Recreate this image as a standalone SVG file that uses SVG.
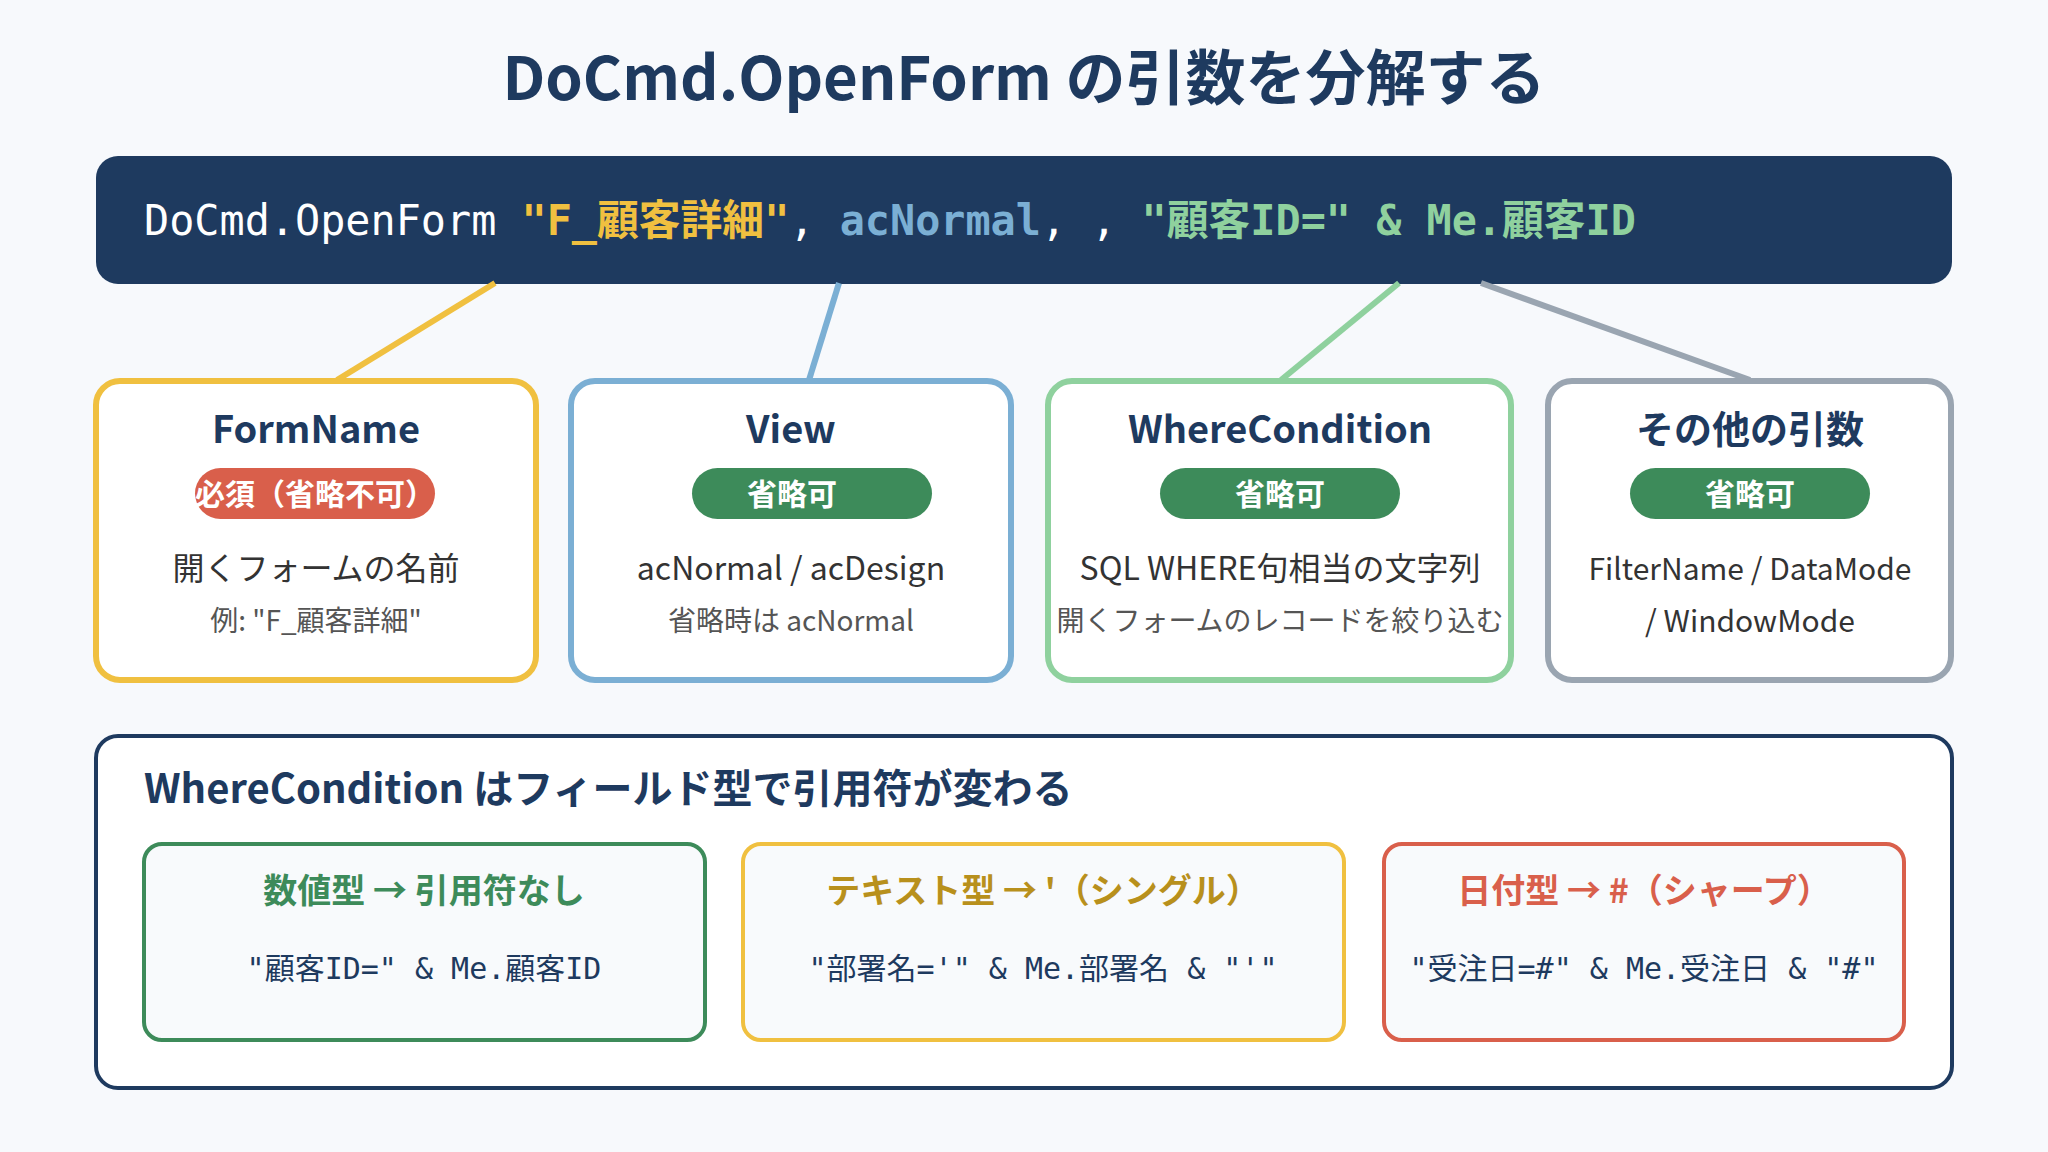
<svg xmlns="http://www.w3.org/2000/svg" width="2048" height="1152" viewBox="0 0 2048 1152">
<defs>
<style>
.sans{font-family:"Noto Sans CJK JP","Noto Sans",sans-serif}
.mono{font-family:"DejaVu Sans Mono","Noto Sans CJK JP",monospace}
.title{font-size:60px;font-weight:700;fill:#1e3a5f}
.ntitle{font-size:38px;font-weight:700;fill:#1e3a5f}
.badge-t{font-size:30px;font-weight:700;fill:#ffffff}
.l1{font-size:32px;fill:#333333}
.l1s{font-size:30px;fill:#333333}
.l2{font-size:28px;fill:#555555}
.node{fill:#ffffff;stroke-width:6}
.pill-g{fill:#3d8b5a}
.pill-r{fill:#d95f4b}
.conn{stroke-width:6;fill:none}
.sub{fill:#f8fafc;stroke-width:4}
.subt{font-size:34px;font-weight:700}
.subc{font-size:30px;fill:#1e3a5f}
</style>
</defs>
<rect x="0" y="0" width="2048" height="1152" fill="#f7f9fc"/>
<text class="sans title" x="1024" y="100" text-anchor="middle">DoCmd.OpenForm の引数を分解する</text>

<g id="code">
<rect x="96" y="156" width="1856" height="128" rx="22" fill="#1e3a5f"/>
<text class="mono" x="144" y="235" font-size="41.8" fill="#ffffff">DoCmd.OpenForm <tspan fill="#f0c040" font-weight="700">"F_顧客詳細"</tspan>, <tspan fill="#7bafd4" font-weight="700">acNormal</tspan>, , <tspan fill="#8fd19e" font-weight="700">"顧客ID=" &amp; Me.顧客ID</tspan></text>
</g>

<g id="connectors">
<line class="conn" x1="495" y1="283" x2="337" y2="380" stroke="#f0c040"/>
<line class="conn" x1="839" y1="283" x2="809" y2="380" stroke="#7bafd4"/>
<line class="conn" x1="1399" y1="283" x2="1281" y2="380" stroke="#8fd19e"/>
<line class="conn" x1="1481" y1="283" x2="1750" y2="380" stroke="#9aa5b1"/>
</g>

<g id="node-formname">
<rect class="node" x="96" y="381" width="440" height="299" rx="24" stroke="#f0c040"/>
<text class="sans ntitle" x="316" y="443" text-anchor="middle">FormName</text>
<rect class="pill-r" x="195" y="468" width="240" height="51" rx="25.5"/>
<text class="sans badge-t" x="315" y="505" text-anchor="middle">必須（省略不可）</text>
<text class="sans l1" x="316" y="580" text-anchor="middle">開くフォームの名前</text>
<text class="sans l2" x="316" y="631" text-anchor="middle">例: "F_顧客詳細"</text>
</g>

<g id="node-view">
<rect class="node" x="571" y="381" width="440" height="299" rx="24" stroke="#7bafd4"/>
<text class="sans ntitle" x="791" y="443" text-anchor="middle">View</text>
<rect class="pill-g" x="692" y="468" width="240" height="51" rx="25.5"/>
<text class="sans badge-t" x="792" y="505" text-anchor="middle">省略可</text>
<text class="sans l1" x="791" y="580" text-anchor="middle">acNormal / acDesign</text>
<text class="sans l2" x="791" y="631" text-anchor="middle">省略時は acNormal</text>
</g>

<g id="node-where">
<rect class="node" x="1048" y="381" width="463" height="299" rx="24" stroke="#8fd19e"/>
<text class="sans ntitle" x="1280" y="443" text-anchor="middle">WhereCondition</text>
<rect class="pill-g" x="1160" y="468" width="240" height="51" rx="25.5"/>
<text class="sans badge-t" x="1280" y="505" text-anchor="middle">省略可</text>
<text class="sans l1" x="1280" y="580" text-anchor="middle">SQL WHERE句相当の文字列</text>
<text class="sans l2" x="1280" y="631" text-anchor="middle">開くフォームのレコードを絞り込む</text>
</g>

<g id="node-other">
<rect class="node" x="1548" y="381" width="403" height="299" rx="24" stroke="#9aa5b1"/>
<text class="sans ntitle" x="1750" y="443" text-anchor="middle">その他の引数</text>
<rect class="pill-g" x="1630" y="468" width="240" height="51" rx="25.5"/>
<text class="sans badge-t" x="1750" y="505" text-anchor="middle">省略可</text>
<text class="sans l1s" x="1750" y="580" text-anchor="middle">FilterName / DataMode</text>
<text class="sans l1s" x="1750" y="632" text-anchor="middle">/ WindowMode</text>
</g>

<g id="panel">
<rect x="96" y="736" width="1856" height="352" rx="22" fill="#ffffff" stroke="#1e3a5f" stroke-width="4"/>
<text class="sans" x="144" y="803" font-size="40" font-weight="700" fill="#1e3a5f">WhereCondition はフィールド型で引用符が変わる</text>
</g>

<g id="box-number">
<rect class="sub" x="144" y="844" width="561" height="196" rx="18" stroke="#3d8b5a"/>
<text class="sans subt" x="424" y="903" text-anchor="middle" fill="#3d8b5a">数値型 → 引用符なし</text>
<text class="mono subc" x="424" y="979" text-anchor="middle">"顧客ID=" &amp; Me.顧客ID</text>
</g>

<g id="box-text">
<rect class="sub" x="743" y="844" width="601" height="196" rx="18" stroke="#f0c040"/>
<text class="sans subt" x="1043" y="903" text-anchor="middle" fill="#b8901c">テキスト型 → '（シングル）</text>
<text class="mono subc" x="1043" y="979" text-anchor="middle">"部署名='" &amp; Me.部署名 &amp; "'"</text>
</g>

<g id="box-date">
<rect class="sub" x="1384" y="844" width="520" height="196" rx="18" stroke="#d95f4b"/>
<text class="sans subt" x="1644" y="903" text-anchor="middle" fill="#d95f4b">日付型 → #（シャープ）</text>
<text class="mono subc" x="1644" y="979" text-anchor="middle">"受注日=#" &amp; Me.受注日 &amp; "#"</text>
</g>
</svg>
